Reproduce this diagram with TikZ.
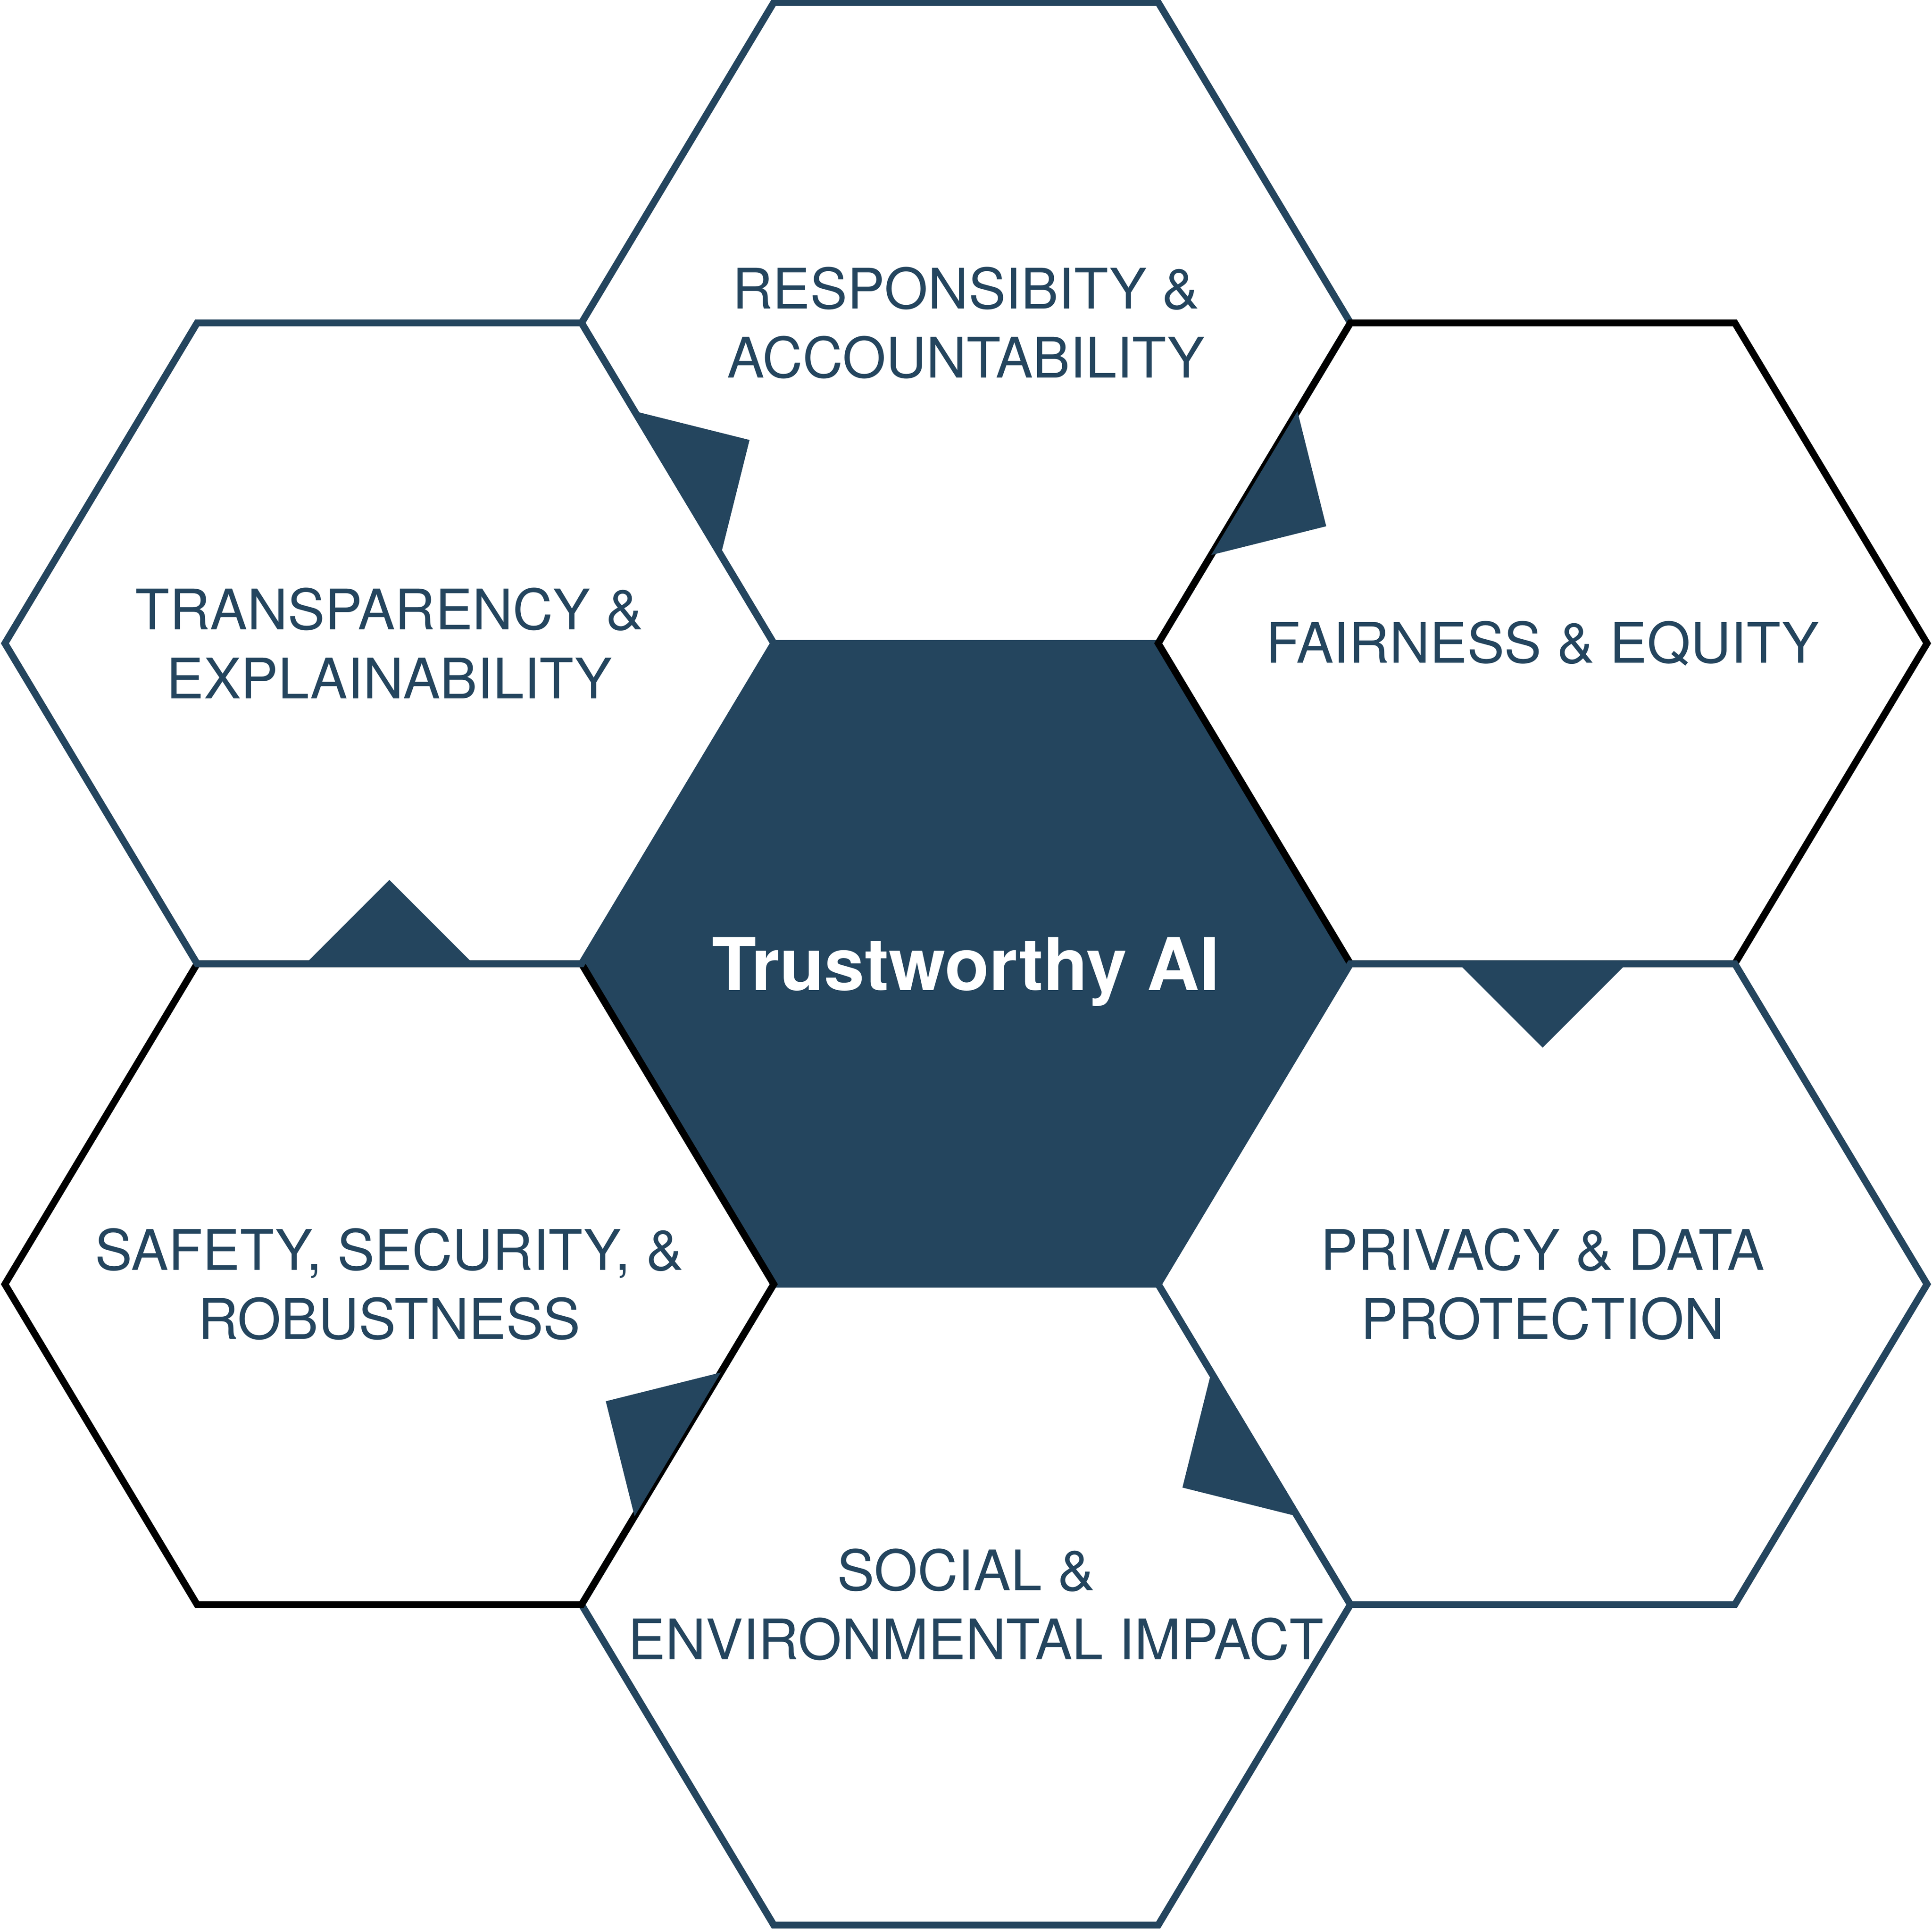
\documentclass[tikz,border=0pt]{standalone}
\usepackage{fontspec}
\setmainfont{TeX Gyre Heros}
\usetikzlibrary{calc}
\usepackage{xcolor}
\definecolor{TrustNavy}{HTML}{24455E}

\begin{document}
\begin{tikzpicture}[x=0.01cm, y=0.01cm,
    cellline/.style={line width=1.6pt, line join=miter},
    celllabel/.style={font=\fontsize{12.9}{15.9}\selectfont, text=TrustNavy, align=center},
    corelabel/.style={font=\fontsize{16.8}{20}\selectfont\bfseries, text=white, text depth=0pt}]
    % Frame
    \useasboundingbox (-784,-784) rectangle (784,782);

    % Core cell
    \fill[TrustNavy] (0,0) ++(-312,0) -- ++(156,260) -- ++(312,0) -- ++(156,-260) -- ++(-156,-260) -- ++(-312,0) -- cycle;

    % Outer cells
    \draw[cellline, TrustNavy] (0,520) ++(-312,0) -- ++(156,260) -- ++(312,0) -- ++(156,-260) -- ++(-156,-260) -- ++(-312,0) -- cycle;
    \draw[cellline, black] (468,260) ++(-312,0) -- ++(156,260) -- ++(312,0) -- ++(156,-260) -- ++(-156,-260) -- ++(-312,0) -- cycle;
    \draw[cellline, TrustNavy] (468,-260) ++(-312,0) -- ++(156,260) -- ++(312,0) -- ++(156,-260) -- ++(-156,-260) -- ++(-312,0) -- cycle;
    \draw[cellline, TrustNavy] (0,-520) ++(-312,0) -- ++(156,260) -- ++(312,0) -- ++(156,-260) -- ++(-156,-260) -- ++(-312,0) -- cycle;
    \draw[cellline, black] (-468,-260) ++(-312,0) -- ++(156,260) -- ++(312,0) -- ++(156,-260) -- ++(-156,-260) -- ++(-312,0) -- cycle;
    \draw[cellline, TrustNavy] (-468,260) ++(-312,0) -- ++(156,260) -- ++(312,0) -- ++(156,-260) -- ++(-156,-260) -- ++(-312,0) -- cycle;

    % Tabs on the shared edges
    \foreach \from/\to in {{-312,520}/{-156,260}, {312,520}/{156,260}, {624,0}/{312,0},
                           {312,-520}/{156,-260}, {-312,-520}/{-156,-260}, {-624,0}/{-312,0}}
        \fill[TrustNavy] ($(\from)!0.5!(\to)!0.68cm!(\from)$) -- ($(\from)!0.5!(\to)!0.68cm!(\to)$)
            -- ($(\from)!0.5!(\to)!0.68cm!90:(\to)$) -- cycle;

    % Labels
    \node[corelabel] (core) at (0,0) {Trustworthy AI};
    \node[celllabel] (resp) at (0,520) {RESPONSIBITY \&\\ACCOUNTABILITY};
    \node[celllabel] (fair) at (468,260) {FAIRNESS \& EQUITY};
    \node[celllabel] (priv) at (468,-260) {PRIVACY \& DATA\\PROTECTION};
    \node[celllabel] (social) at (0,-520) {SOCIAL \&\\\hspace*{0.16cm}ENVIRONMENTAL IMPACT};
    \node[celllabel] (safety) at (-468,-260) {SAFETY, SECURITY, \&\\ROBUSTNESS};
    \node[celllabel] (transp) at (-468,260) {TRANSPARENCY \&\\EXPLAINABILITY};
\end{tikzpicture}
\end{document}
